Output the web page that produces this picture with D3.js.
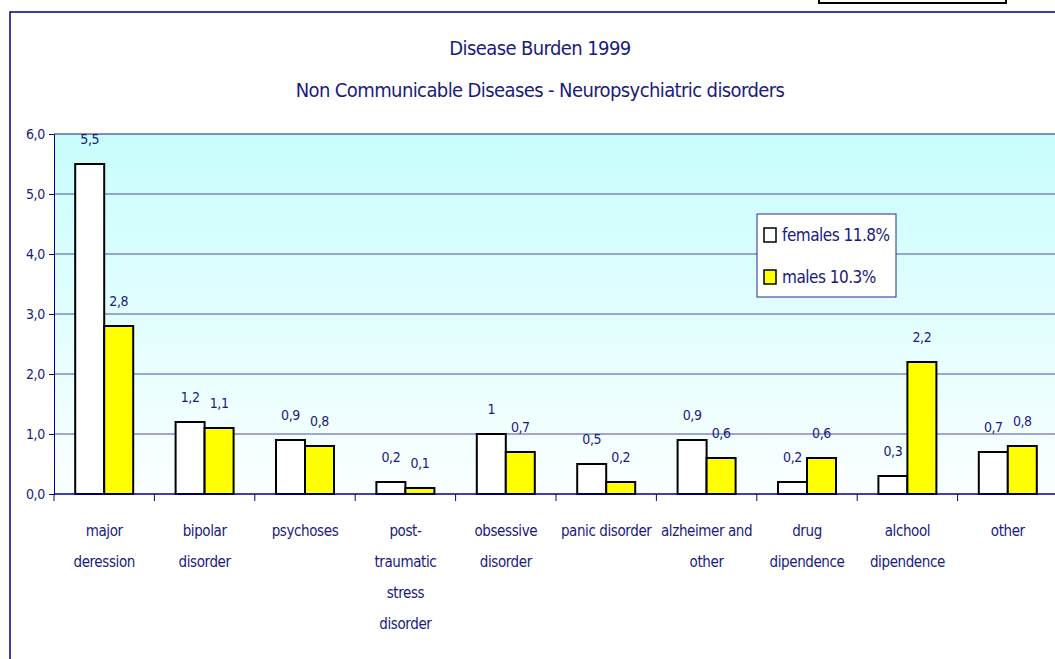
<!DOCTYPE html>
<html>
<head>
<meta charset="utf-8">
<script src="https://cdn.jsdelivr.net/npm/d3@7/dist/d3.min.js"></script>
<style>
  body { margin: 0; background: #fff; }
  svg { display: block; }
  text { font-family: "Liberation Sans Narrow", "DejaVu Sans Condensed", "Liberation Sans", sans-serif; fill: #1a1a80; }
</style>
</head>
<body>
<figure id="chart" style="margin:0"></figure>
<script>
// data
const categories = [
  "major\nderession", "bipolar\ndisorder", "psychoses", "post-\ntraumatic\nstress\ndisorder",
  "obsessive\ndisorder", "panic disorder", "alzheimer and\nother", "drug\ndipendence",
  "alchool\ndipendence", "other"
];
const females = [5.5, 1.2, 0.9, 0.2, 1, 0.5, 0.9, 0.2, 0.3, 0.7];
const males = [2.8, 1.1, 0.8, 0.1, 0.7, 0.2, 0.6, 0.6, 2.2, 0.8];
const seriesNames = ["females 11.8%", "males 10.3%"];
const seriesColors = ["#ffffff", "#ffff00"];
const yTicks = [0, 1, 2, 3, 4, 5, 6];

const W = 1055, H = 659;
const plotLeft = 54, plotRight = 1058, plotTop = 134, plotBottom = 494;

const svg = d3.select("figure#chart")
  .append("svg")
  .attr("width", W)
  .attr("height", H);

// outer frame
svg.append("rect")
  .attr("x", 10).attr("y", 12)
  .attr("width", W + 20).attr("height", H + 20)
  .attr("fill", "#fff")
  .attr("stroke", "#000080").attr("stroke-width", 1.5);

// little box cut off at the top right
svg.append("rect")
  .attr("x", 819).attr("y", -10)
  .attr("width", 187).attr("height", 13)
  .attr("fill", "#fff")
  .attr("stroke", "#000").attr("stroke-width", 2);

// titles
svg.append("text")
  .attr("x", 540).attr("y", 55)
  .attr("text-anchor", "middle")
  .attr("font-size", 20)
  .style("letter-spacing", "-0.6px")
  .text("Disease Burden  1999");
svg.append("text")
  .attr("x", 540).attr("y", 97)
  .attr("text-anchor", "middle")
  .attr("font-size", 20)
  .style("letter-spacing", "-0.6px")
  .text("Non Communicable Diseases - Neuropsychiatric disorders");

// plot background gradient
const defs = svg.append("defs");
const grad = defs.append("linearGradient")
  .attr("id", "bg").attr("x1", 0).attr("y1", 0).attr("x2", 0).attr("y2", 1);
grad.append("stop").attr("offset", "0%").attr("stop-color", "#c8fdfd");
grad.append("stop").attr("offset", "100%").attr("stop-color", "#fbffff");

svg.append("rect")
  .attr("x", plotLeft).attr("y", plotTop)
  .attr("width", plotRight - plotLeft).attr("height", plotBottom - plotTop)
  .attr("fill", "url(#bg)");

const x = d3.scaleBand()
  .domain(d3.range(categories.length))
  .range([plotLeft, plotRight])
  .padding(0);

const bw = 29;
const x1 = d3.scaleBand()
  .domain([0, 1])
  .range([x.bandwidth() / 2 - bw, x.bandwidth() / 2 + bw]);

const y = d3.scaleLinear()
  .domain([0, 6])
  .range([plotBottom, plotTop]);

// gridlines
svg.append("g")
  .selectAll("line")
  .data(yTicks.filter(d => d > 0))
  .enter()
  .append("line")
  .attr("x1", plotLeft).attr("x2", plotRight)
  .attr("y1", d => y(d)).attr("y2", d => y(d))
  .attr("stroke", d => d === 6 ? "#1e1e8c" : "#4f4fa6")
  .attr("stroke-width", 1);

// y axis
const yAxis = svg.append("g")
  .attr("transform", "translate(" + plotLeft + ",0)")
  .call(d3.axisLeft(y).tickValues(yTicks).tickSize(5).tickPadding(4)
    .tickFormat(d => d.toFixed(1).replace(".", ",")));
yAxis.select(".domain").attr("stroke", "#000080");
yAxis.selectAll(".tick line").attr("stroke", "#000080");
yAxis.selectAll(".tick text")
  .attr("font-size", 14)
  .attr("font-family", null)
  .attr("fill", "#1a1a80")
  .style("letter-spacing", "-0.3px");

// bars
const fmt = v => String(v).replace(".", ",");
const rows = categories.map((c, i) => [females[i], males[i]]);

const groups = svg.append("g")
  .selectAll("g")
  .data(rows)
  .enter()
  .append("g")
  .attr("transform", (d, i) => "translate(" + x(i) + ",0)");

groups.selectAll("rect")
  .data(d => d)
  .enter()
  .append("rect")
  .attr("x", (d, j) => x1(j))
  .attr("y", d => y(d))
  .attr("width", x1.bandwidth())
  .attr("height", d => y(0) - y(d))
  .attr("fill", (d, j) => seriesColors[j])
  .attr("stroke", "#000")
  .attr("stroke-width", 2);

groups.selectAll("text")
  .data(d => d)
  .enter()
  .append("text")
  .attr("x", (d, j) => x1(j) + x1.bandwidth() / 2)
  .attr("y", d => y(d) - 20)
  .attr("text-anchor", "middle")
  .attr("font-size", 14)
  .style("letter-spacing", "-0.4px")
  .text(d => fmt(d));

// x axis
svg.append("line")
  .attr("x1", plotLeft).attr("x2", plotRight)
  .attr("y1", plotBottom).attr("y2", plotBottom)
  .attr("stroke", "#000080").attr("stroke-width", 1.5);

svg.append("g")
  .selectAll("line")
  .data(d3.range(categories.length + 1))
  .enter()
  .append("line")
  .attr("x1", i => plotLeft + i * x.bandwidth())
  .attr("x2", i => plotLeft + i * x.bandwidth())
  .attr("y1", plotBottom).attr("y2", plotBottom + 7)
  .attr("stroke", "#000080");

const catLabels = svg.append("g")
  .selectAll("text")
  .data(categories)
  .enter()
  .append("text")
  .attr("x", (d, i) => x(i) + x.bandwidth() / 2)
  .attr("y", 536)
  .attr("text-anchor", "middle")
  .attr("font-size", 15)
  .style("letter-spacing", "-0.4px");

catLabels.each(function(d, i) {
  const t = d3.select(this);
  d.split("\n").forEach((line, k) => {
    t.append("tspan")
      .attr("x", x(i) + x.bandwidth() / 2)
      .attr("dy", k === 0 ? 0 : 31)
      .text(line);
  });
});

// legend
const legend = svg.append("g").attr("transform", "translate(757,214)");
legend.append("rect")
  .attr("width", 139).attr("height", 83)
  .attr("fill", "#fff")
  .attr("stroke", "#2a2a90").attr("stroke-width", 1);

const items = legend.selectAll("g")
  .data(seriesNames)
  .enter()
  .append("g")
  .attr("transform", (d, i) => "translate(7," + (14 + i * 42) + ")");

items.append("rect")
  .attr("width", 12).attr("height", 14)
  .attr("fill", (d, i) => seriesColors[i])
  .attr("stroke", "#000").attr("stroke-width", 1.5);

items.append("text")
  .attr("x", 18).attr("y", 13)
  .attr("font-size", 17)
  .style("letter-spacing", "-0.5px")
  .text(d => d);
</script>
</body>
</html>
